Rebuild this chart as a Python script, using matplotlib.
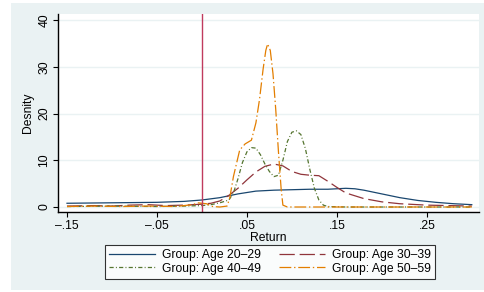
import matplotlib
matplotlib.use('Agg')
import matplotlib.pyplot as plt
from matplotlib.patches import Rectangle

plt.rcParams['font.family'] = ['Liberation Sans', 'DejaVu Sans']
plt.rcParams['lines.scale_dashes'] = False

# kernel density curves (return, density)
ret_2029 = [-0.15, -0.10, -0.05, -0.02, 0.0, 0.02, 0.04, 0.06, 0.08, 0.10, 0.12,
            0.14, 0.16, 0.17, 0.18, 0.20, 0.22, 0.24, 0.26, 0.28, 0.30]
den_2029 = [0.8, 0.9, 1.0, 1.2, 1.5, 2.0, 2.8, 3.4, 3.6, 3.7, 3.8,
            3.8, 4.0, 3.9, 3.6, 2.8, 2.0, 1.4, 1.0, 0.7, 0.5]

ret_3039 = [-0.15, -0.12, -0.10, -0.08, -0.06, -0.04, -0.02, 0.0, 0.01, 0.02, 0.03,
            0.04, 0.05, 0.06, 0.07, 0.08, 0.09, 0.10, 0.11, 0.12, 0.13, 0.14,
            0.15, 0.16, 0.18, 0.20, 0.22, 0.25, 0.30]
den_3039 = [0.2, 0.3, 0.2, 0.4, 0.5, 0.3, 0.4, 0.6, 0.8, 1.3, 2.5,
            4.0, 5.8, 7.5, 8.7, 9.2, 8.8, 7.6, 7.0, 6.8, 6.7, 5.5,
            4.2, 3.0, 1.8, 1.1, 0.7, 0.4, 0.2]

ret_4049 = [-0.15, -0.10, -0.05, -0.02, 0.0, 0.01, 0.02, 0.03, 0.035, 0.04, 0.045,
            0.05, 0.055, 0.06, 0.065, 0.07, 0.075, 0.08, 0.085, 0.09, 0.095,
            0.10, 0.105, 0.11, 0.115, 0.12, 0.125, 0.13, 0.135, 0.14, 0.16,
            0.20, 0.25, 0.30]
den_4049 = [0.1, 0.2, 0.1, 0.2, 0.3, 0.5, 0.9, 1.5, 3.0, 6.0, 9.5,
            11.8, 12.7, 12.6, 11.2, 9.2, 7.6, 6.5, 6.8, 10.0, 14.0,
            16.0, 16.3, 15.5, 12.5, 8.0, 4.0, 1.5, 0.4, 0.1, 0.0,
            0.0, 0.0, 0.0]

ret_5059 = [-0.15, -0.12, -0.09, -0.06, -0.03, -0.01, -0.005, 0.005, 0.012, 0.02,
            0.028, 0.031, 0.035, 0.042, 0.048, 0.055, 0.06, 0.064, 0.068, 0.071,
            0.073, 0.076, 0.079, 0.082, 0.085, 0.088, 0.09, 0.095, 0.15, 0.20,
            0.25, 0.30]
den_5059 = [0.1, 0.2, 0.1, 0.2, 0.1, 0.5, 0.9, 0.7, 0.1, 0.0,
            0.2, 2.0, 6.5, 12.2, 13.5, 14.3, 18.0, 23.0, 29.5, 33.5,
            34.9, 33.5, 28.5, 21.0, 12.0, 4.0, 0.4, 0.0, 0.0, 0.0,
            0.0, 0.0]

labels = ['Group: Age 20\u201329', 'Group: Age 30\u201339',
          'Group: Age 40\u201349', 'Group: Age 50\u201359']
xticks = [-0.15, -0.05, 0.05, 0.15, 0.25]
xticklabels = ['\u2013.15', '\u2013.05', '.05', '.15', '.25']
yticks = [0, 10, 20, 30, 40]

W, H = 485, 292
fig = plt.figure(figsize=(W / 100, H / 100), dpi=100, facecolor='white')
fig.patches.append(Rectangle((11 / W, 2 / H), 474 / W, 287 / H, transform=fig.transFigure,
                             facecolor='#EAF2F3', edgecolor='none', zorder=-10))

ax = fig.add_axes([58 / W, 80 / H, 421 / W, 198 / H])
ax.set_facecolor('white')

lw = 0.9
l1, = ax.plot(ret_2029, den_2029, color='#1A476F', lw=lw)
l2, = ax.plot(ret_3039, den_3039, color='#90353B', lw=lw, dashes=(11, 3.5))
l3, = ax.plot(ret_4049, den_4049, color='#55752F', lw=lw, dashes=(3, 1.6, 0.7, 1.6))
l4, = ax.plot(ret_5059, den_5059, color='#E37E00', lw=lw, dashes=(8.5, 2, 1, 2))
ax.axvline(0, color='#C03B5E', lw=1.0)

ax.set_xlim(-0.16, 0.308)
ax.set_ylim(-1.07, 41.3)
ax.set_xticks(xticks)
ax.set_xticklabels(xticklabels)
ax.set_yticks(yticks)
ax.set_yticklabels([str(v) for v in yticks], rotation=90, va='center')
ax.tick_params(labelsize=8.7, length=3.5, width=0.8, color='black', pad=2)
ax.grid(axis='y', color='#EAF2F3', lw=1.0)
ax.set_axisbelow(True)
for s in ['top', 'right']:
    ax.spines[s].set_visible(False)
for s in ['left', 'bottom']:
    ax.spines[s].set_linewidth(1.0)

ax.set_xlabel('Return', fontsize=8.7, labelpad=0)
ax.set_ylabel('Desnity', fontsize=8.7, labelpad=3)

# legend fills by column, so order handles to get rows 20-29/30-39 then 40-49/50-59
leg = fig.legend([l1, l3, l2, l4], [labels[0], labels[2], labels[1], labels[3]],
                 ncol=2, loc='center',
                 bbox_to_anchor=(270 / W, 30 / H), fontsize=8.7, frameon=True,
                 fancybox=False, edgecolor='black', handlelength=3.8,
                 handletextpad=0.6, columnspacing=1.5, labelspacing=0.1,
                 borderpad=0.35)
leg.get_frame().set_linewidth(0.8)

fig.savefig('out.png', dpi=100, facecolor='white')
